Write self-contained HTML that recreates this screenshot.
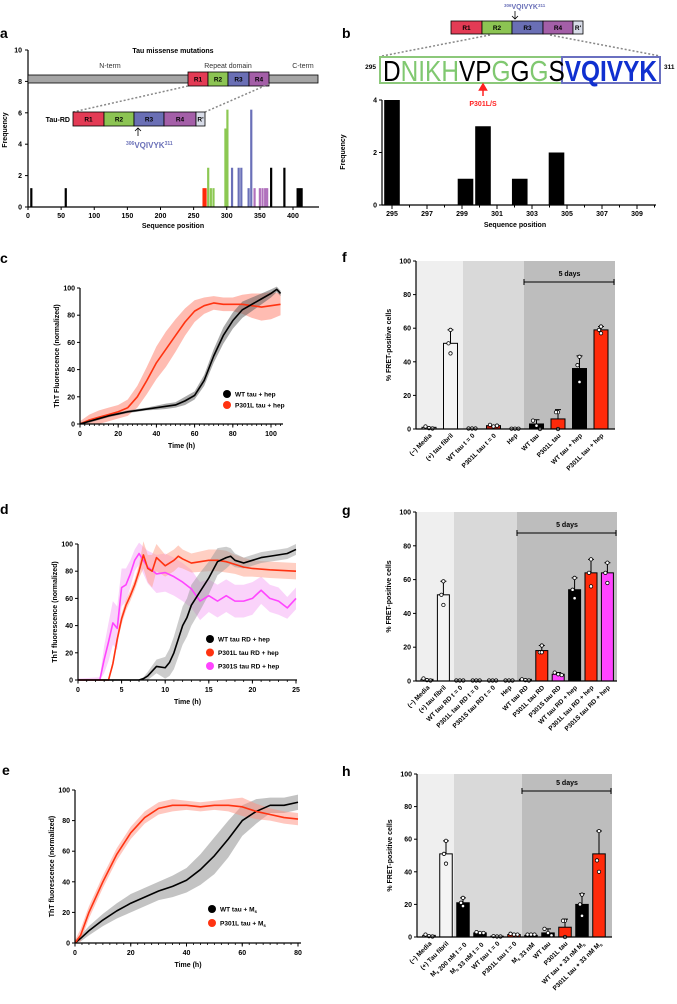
<!DOCTYPE html>
<html><head><meta charset="utf-8"><style>
html,body{margin:0;padding:0;background:#fff}
svg{display:block;font-family:"Liberation Sans",Arial,sans-serif}
</style></head><body>
<svg id="fig" width="677" height="1004" viewBox="0 0 677 1004" xmlns="http://www.w3.org/2000/svg"></svg>
<script>
// ---------- DATA ----------
// panel a
const aPos=[5,57,265,268,272,276,280,298,301,308,318,322,333,337,342,350,354,358,361,367,387,407,410,413];
const aFreq=[1.2,1.2,1.2,1.2,2.5,1.2,1.2,5,6.2,2.5,2.5,2.5,1.2,6.2,1.2,1.2,1.2,1.2,1.2,2.5,2.5,1.2,1.2,1.2];
const aColor=['k','k','r','r','g','g','g','g','g','b','b','b','b','b','p','p','p','p','p','k','k','k','k','k'];
const aXTicks=[0,50,100,150,200,250,300,350,400];
const aYTicks=[0,2,4,6,8,10];
// panel b
const bPos=[295,299.2,300.2,302.3,304.4];
const bFreq=[4,1,3,1,2];
const bXTicks=[295,297,299,301,303,305,307,309];
const bYTicks=[0,2,4];
// panel c
const cWtX=[0,5,10,15,20,25,30,35,40,45,50,55,60,65,70,75,80,85,90,95,100,103,105];
const cWtY=[0,2,4,6,7.5,9,10,11,12,13,14,17,21,32,50,65,76,84,88,92,96,99,96];
const cWtE=[1,1,1,1,1,1,1,1,1.5,2,2,3,3,4,5,6,6,6,5,4,3,2,2];
const cMutX=[0,5,10,15,20,25,30,35,40,45,50,55,60,65,70,75,80,85,90,95,100,105];
const cMutY=[0,3,5,7,9,12,20,32,45,55,65,75,83,87,89,88,88,88,87,86,87,88];
const cMutE=[2,4,5,5,5,6,8,10,12,13,12,10,8,6,5,5,5,7,9,10,10,8];
// panel d
const dWtX=[0,7,7.5,8,9,10,10.5,11,12,12.5,13,14,15,16,17,17.5,18,19,20,21,22,23,24,25];
const dWtY=[0,0,1,3,10,9,13,20,40,46,55,65,75,87,90,91,88,86,88,90,91,92,93,96];
const dWtE=[0.5,0.5,1,3,5,8,10,12,14,14,15,14,12,10,8,6,5,4,4,4,4,4,4,4];
const dL_X=[0,3.5,4,4.5,5,5.5,6,6.5,7,7.5,8,8.5,9,10,11,11.5,12,13,15,16,17,18,19,20,22,25];
const dL_Y=[0,0,12,30,45,55,62,70,80,92,82,80,90,84,88,91,89,86,88,88,87,85,83,82,81,80];
const dL_E=[0.5,0.5,3,3,4,4,4,4,5,10,10,12,10,8,8,8,7,7,8,8,8,7,7,6,6,6];
const dS_X=[0,2.5,3,3.5,4,4.5,5,5.5,6,6.5,7,7.5,8,9,10,11,12,13,14,15,16,17,18,19,20,21,22,23,24,25];
const dS_Y=[0,0,15,28,42,38,68,70,78,88,93,88,83,78,79,76,72,67,58,62,58,62,58,58,60,66,60,58,53,60];
const dS_E=[1,2,10,14,16,16,14,12,10,8,8,10,12,14,14,14,14,14,14,12,12,12,12,12,12,10,10,10,8,8];
// panel e
const eWtX=[0,2,5,10,15,20,25,30,35,40,45,50,55,60,65,70,75,80];
const eWtY=[0,3,8,15,21,26,30,34,37,41,48,57,68,80,86,90,90,92];
const eWtE=[2,2,3,4,5,6,6,6,7,8,10,12,12,10,8,5,5,5];
const eMutX=[0,2,5,10,15,20,25,30,35,40,45,50,55,60,65,70,75,80];
const eMutY=[0,5,20,40,58,72,82,88,90,90,89,90,90,89,86,84,82,81];
const eMutE=[2,4,4,4,4,4,4,4,4,3,3,3,4,6,5,4,4,4];
// panel f
const fCats=['(−) Media','(+) tau fibril','WT tau t = 0','P301L tau t = 0','Hep','WT tau','P301L tau','WT  tau + hep','P301L tau + hep'];
const fVals=[1,51,0,2,0,3,6,36,59];
const fErr=[0,8,0,0,0,2.5,5.5,7.5,2];
const fPts=[[1.5,0.5,0.3],[59,51,45],[0.3,0.3,0.3],[2.5,1.5,2],[0.2,0.2,0.2],[5,2,0],[10,10,0],[43,38,28],[61,59,57]];
const fFill=['w','w','k','dr','k','k','r','k','r'];
// panel g
const gCats=['(−) Media','(+) tau fibril','WT tau RD t = 0','P301L tau RD t = 0','P301S tau RD t = 0','Hep','WT tau RD','P301L tau RD','P301S tau RD','WT tau RD + hep','P301L tau RD + hep','P301S tau RD + hep'];
const gVals=[1,51,0,0,0,0,1,18,4,54,64,64];
const gErr=[0,8,0,0,0,0,0,3,1,7,8,6];
const gPts=[[1.5,0.5,0.3],[59,51,45],[0.3,0.3,0.3],[0.3,0.3,0.3],[0.3,0.3,0.3],[0.3,0.3,0.3],[1,0.5,0.3],[21,17,17],[5,4,3.5],[61,54,49],[72,64,56],[70,64,58]];
const gFill=['w','w','k','k','k','k','k','r','m','k','r','m'];
// panel h
const hCats=['(−) Media','(+) Tau fibril','Ms 200 nM t = 0','Ms 33 nM t = 0','WT tau t = 0','P301L tau t = 0','Ms 33 nM','WT tau','P301L tau','WT tau + 33 nM Ms','P301L tau + 33 nM Ms'];
const hVals=[1,51,21,2.5,0.5,1.5,1,2.5,6,20,51];
const hErr=[0,8,3,0,0,0,0,2.5,5,6.5,14];
const hPts=[[1.5,0.5,0.3],[59,51,45],[24,21,19],[3,2.5,2.5],[0.5,0.3,0.3],[2,1.5,1.5],[1.5,1.5,1.5],[5,2.5,1],[10,10,0],[26,20,13],[65,47,40]];
const hFill=['w','w','k','k','k','r','k','k','r','k','r'];

// ---------- DRAWING ----------
const NS='http://www.w3.org/2000/svg';
const svg=document.getElementById('fig');
function el(tag,attrs,parent){const e=document.createElementNS(NS,tag);for(const k in attrs)e.setAttribute(k,attrs[k]);(parent||svg).appendChild(e);return e;}
function txt(x,y,s,size,anchor,weight,fill,parent){const t=el('text',{x:x,y:y,'font-size':size,'text-anchor':anchor||'start','font-weight':weight||'bold',fill:fill||'#000'},parent);t.textContent=s;return t;}
const COL={k:'#000',r:'#ff2a0a',g:'#8cc853',b:'#6a70b8',p:'#b070bc',w:'#f4f4f4',m:'#ff44ff',dr:'#c02010'};

function panelLabel(x,y,s){const t=txt(x,y,s,14,'start','bold');}

// ---- Panel a ----
(function(){
 const g=el('g',{});
 
 
 panelLabel(0,38,'a');
 const X=v=>28+v*0.6625, Y=v=>207-v*15.7;
 aPos.forEach((p,i)=>{const r=el('rect',{x:X(p)-1.1,y:Y(aFreq[i]),width:2.2,height:207-Y(aFreq[i]),fill:COL[aColor[i]]},g);
  
  });
 el('line',{x1:28,y1:50,x2:28,y2:207,stroke:'#000','stroke-width':1.2},g);
 el('line',{x1:28,y1:207,x2:319,y2:207,stroke:'#000','stroke-width':1.2},g);
 aYTicks.forEach(v=>{el('line',{x1:25,y1:Y(v),x2:28,y2:Y(v),stroke:'#000'},g);txt(22,Y(v)+2.5,v,7,'end','bold',null,g);});
 aXTicks.forEach(v=>{el('line',{x1:X(v),y1:207,x2:X(v),y2:210,stroke:'#000'},g);txt(X(v),218,v,7,'middle','bold',null,g);});
 const xt=txt(173,228,'Sequence position',7,'middle','bold',null,g);
 const yt=txt(0,0,'Frequency',7,'middle','bold',null,g);yt.setAttribute('transform','translate(7,130) rotate(-90)');
 const tt=txt(173,53,'Tau missense mutations',7,'middle','bold',null,g);
 txt(110,68,'N-term',7,'middle','normal','#333',g);txt(228,68,'Repeat domain',7,'middle','normal','#333',g);txt(303,68,'C-term',7,'middle','normal','#333',g);
 const pb=el('rect',{x:28,y:75,width:290,height:8,fill:'#a5a5a5',stroke:'#000','stroke-width':0.8},g);
 const seg=(xs,y,h,labs,cols)=>{for(let i=0;i<labs.length;i++){el('rect',{x:xs[i],y:y,width:xs[i+1]-xs[i],height:h,fill:cols[i],stroke:'#000','stroke-width':0.8},g);txt((xs[i]+xs[i+1])/2,y+h/2+2.5,labs[i],6.5,'middle','bold','#000',g);}};
 const rc=['#e33b55','#8cc453','#6a6fb5','#a45fa8','#d8dce8'];
 seg([188,208,228,249,269],72,14,['R1','R2','R3','R4'],rc);
 el('line',{x1:188,y1:86,x2:73,y2:112,stroke:'#888','stroke-width':1.5,'stroke-dasharray':'2,2'},g);
 el('line',{x1:269,y1:84,x2:205,y2:112,stroke:'#888','stroke-width':1.5,'stroke-dasharray':'2,2'},g);
 seg([73,104,134,164,196,205],112,14,['R1','R2','R3','R4',"R'"],rc);
 txt(70,122,'Tau-RD',7,'end','bold',null,g);
 el('path',{d:'M138,136 L138,128 M135,131 L138,128 L141,131',stroke:'#000',fill:'none','stroke-width':0.8},g);
 const m=txt(126,148,'',8,'start','bold','#6a70b8',g);m.innerHTML='<tspan font-size="5" dy="-3">306</tspan><tspan dy="3">VQIVYK</tspan><tspan font-size="5" dy="-3">311</tspan>';
})();

// ---- Panel b ----
(function(){
 const g=el('g',{});
 
 
 panelLabel(342,38,'b');
 const rc=['#e33b55','#8cc453','#6a6fb5','#a45fa8','#d8dce8'];
 const xs=[451,482,512,543,573,583],labs=['R1','R2','R3','R4',"R'"];
 for(let i=0;i<5;i++){el('rect',{x:xs[i],y:21,width:xs[i+1]-xs[i],height:13,fill:rc[i],stroke:'#000','stroke-width':0.8},g);txt((xs[i]+xs[i+1])/2,30,labs[i],6.5,'middle','bold','#000',g);}
 el('path',{d:'M515,19 L515,11 M512,16 L515,19 L518,16',stroke:'#000',fill:'none','stroke-width':0.8},g);
 const m=txt(504,9,'',7,'start','bold','#6a70b8',g);m.innerHTML='<tspan font-size="4.5" dy="-2">306</tspan><tspan dy="2">VQIVYK</tspan><tspan font-size="4.5" dy="-2">311</tspan>';
 el('line',{x1:490,y1:35,x2:382,y2:56,stroke:'#888','stroke-width':1.5,'stroke-dasharray':'2,2'},g);
 el('line',{x1:550,y1:35,x2:660,y2:56,stroke:'#888','stroke-width':1.5,'stroke-dasharray':'2,2'},g);
 el('rect',{x:380,y:57,width:182,height:26,fill:'#fff',stroke:'#8cc87a','stroke-width':2},g);
 el('rect',{x:562,y:57,width:98,height:26,fill:'#fff',stroke:'#6a70c0','stroke-width':2},g);
 const s=txt(383,81,'',29,'start','normal',null,g);
 s.setAttribute('textLength','274');s.setAttribute('lengthAdjust','spacingAndGlyphs');
 
 s.innerHTML='<tspan fill="#000">D</tspan><tspan fill="#80c870">NIKH</tspan><tspan fill="#000">VP</tspan><tspan fill="#80c870">G</tspan><tspan fill="#000">G</tspan><tspan fill="#80c870">G</tspan><tspan fill="#000">S</tspan><tspan fill="#1030d0" font-weight="bold">VQIVYK</tspan>';
 txt(376,69,'295',6.5,'end','bold',null,g);txt(664,69,'311',6.5,'start','bold',null,g);
 el('path',{d:'M483,96 L483,88 M479.5,90 L483,84 L486.5,90 Z',stroke:'#ff2020',fill:'#ff2020','stroke-width':1.5},g);
 txt(483,106,'P301L/S',7,'middle','bold','#ff2020',g);
 const X=v=>392+(v-295)*17.5, Y=v=>205-v*26.25;
 bPos.forEach((p,i)=>{const r=el('rect',{x:X(p)-7.8,y:Y(bFreq[i]),width:15.6,height:205-Y(bFreq[i]),fill:'#000'},g);
  
  });
 el('line',{x1:382,y1:100,x2:382,y2:205,stroke:'#000','stroke-width':1.2},g);
 el('line',{x1:382,y1:205,x2:656,y2:205,stroke:'#000','stroke-width':1.2},g);
 bYTicks.forEach(v=>{el('line',{x1:379,y1:Y(v),x2:382,y2:Y(v),stroke:'#000'},g);txt(377,Y(v)+2.5,v,7,'end','bold',null,g);});
 for(let v=295;v<=310;v++)el('line',{x1:X(v),y1:205,x2:X(v),y2:207.5,stroke:'#000'},g);
 bXTicks.forEach(v=>{el('line',{x1:X(v),y1:205,x2:X(v),y2:209,stroke:'#000'},g);txt(X(v),216,v,7,'middle','bold',null,g);});
 const xt=txt(515,227,'Sequence position',7,'middle','bold',null,g);
 const yt=txt(0,0,'Frequency',7,'middle','bold',null,g);yt.setAttribute('transform','translate(345,152) rotate(-90)');
})();

// ---- Line charts ----
function lineChart(c){
 const g=el('g',{});
 
 
 const X=v=>c.x0+(v/c.xr)*(c.xr_px), Y=v=>c.y0-v*(c.y0-c.y100)/100;
 c.series.forEach(s=>{
  let up=s.x.map((v,i)=>X(v)+','+Y(Math.min(s.y[i]+s.e[i],104)));
  let dn=s.x.map((v,i)=>X(v)+','+Y(Math.max(s.y[i]-s.e[i],0))).reverse();
  const b=el('polygon',{points:up.concat(dn).join(' '),fill:s.band,opacity:0.5},g);
  
  
 });
 c.series.forEach(s=>{
  const l=el('polyline',{points:s.x.map((v,i)=>X(v)+','+Y(s.y[i])).join(' '),fill:'none',stroke:s.col,'stroke-width':1.6,'stroke-linejoin':'round'},g);
  
  
 });
 el('line',{x1:c.x0,y1:c.y100,x2:c.x0,y2:c.y0,stroke:'#000','stroke-width':1.2},g);
 el('line',{x1:c.x0,y1:c.y0,x2:c.xend,y2:c.y0,stroke:'#000','stroke-width':1.2},g);
 [0,20,40,60,80,100].forEach(v=>{el('line',{x1:c.x0-3,y1:Y(v),x2:c.x0,y2:Y(v),stroke:'#000'},g);txt(c.x0-5,Y(v)+2.5,v,7,'end','bold',null,g);});
 for(let v=0;X(v)<=c.xend+0.5;v+=c.minor)el('line',{x1:X(v),y1:c.y0,x2:X(v),y2:c.y0+2,stroke:'#000','stroke-width':0.8},g);
 c.ticks.forEach(v=>{el('line',{x1:X(v),y1:c.y0,x2:X(v),y2:c.y0+3.5,stroke:'#000'},g);txt(X(v),c.y0+12,v,7,'middle','bold',null,g);});
 const xt=txt((c.x0+c.xend)/2,c.y0+24,'Time (h)',7,'middle','bold',null,g);
 const yt=txt(0,0,c.ylab,7,'middle','bold',null,g);yt.setAttribute('transform','translate('+(c.x0-21)+','+((c.y0+c.y100)/2)+') rotate(-90)');
 c.legend.forEach((L,i)=>{const lg=el('g',{},g);
  
  
  el('circle',{cx:c.lx,cy:c.ly+i*c.lsp,r:4,fill:L[1]},lg);
  const t=txt(c.lx+8,c.ly+i*c.lsp+2.5,'',6.5,'start','bold',null,lg);t.innerHTML=L[0];});
}
panelLabel(0,263,'c');
lineChart({name:'panel-c-chart',x0:80,xr:100,xr_px:191,xend:283,y0:424,y100:288,minor:2.5,ticks:[0,20,40,60,80,100],ylab:'ThT Fluorescence (normalized)',
 series:[{id:'p301l-tau',x:cMutX,y:cMutY,e:cMutE,col:'#ff3311',band:'#ff7a66'},{id:'wt-tau',x:cWtX,y:cWtY,e:cWtE,col:'#000',band:'#555'}],
 lx:227,ly:394,lsp:11,legend:[['WT tau + hep','#000'],['P301L tau + hep','#ff3311']]});
panelLabel(0,514,'d');
lineChart({name:'panel-d-chart',x0:78,xr:25,xr_px:218,xend:297,y0:680,y100:544,minor:1,ticks:[0,5,10,15,20,25],ylab:'ThT fluorescence (normalized)',
 series:[{id:'p301s-tau-rd',x:dS_X,y:dS_Y,e:dS_E,col:'#ff44ff',band:'#f6a8f6'},{id:'p301l-tau-rd',x:dL_X,y:dL_Y,e:dL_E,col:'#ff3311',band:'#ffa088'},{id:'wt-tau-rd',x:dWtX,y:dWtY,e:dWtE,col:'#000',band:'#999'}],
 lx:210,ly:639,lsp:13.5,legend:[['WT tau RD + hep','#000'],['P301L tau RD + hep','#ff3311'],['P301S tau RD + hep','#ff44ff']]});
panelLabel(2,775,'e');
lineChart({name:'panel-e-chart',x0:75,xr:80,xr_px:223,xend:301,y0:943,y100:790,minor:2.5,ticks:[0,20,40,60,80],ylab:'ThT fluorescence (normalized)',
 series:[{id:'wt-tau-ms',x:eWtX,y:eWtY,e:eWtE,col:'#000',band:'#888'},{id:'p301l-tau-ms',x:eMutX,y:eMutY,e:eMutE,col:'#ff3311',band:'#ff9080'}],
 lx:212,ly:909,lsp:14,legend:[['WT tau + M<tspan font-size="4.5" dy="1.5">s</tspan>','#000'],['P301L tau + M<tspan font-size="4.5" dy="1.5">s</tspan>','#ff3311']]});

// ---- Bar charts ----
function barChart(c){
 const g=el('g',{});
 
 
 const Y=v=>c.y0-v*(c.y0-c.y100)/100, X=i=>c.first+i*c.sp;
 el('rect',{x:c.x0,y:c.y100,width:c.b1-c.x0,height:c.y0-c.y100,fill:'#efefef'},g);
 el('rect',{x:c.b1,y:c.y100,width:c.b2-c.b1,height:c.y0-c.y100,fill:'#d9d9d9'},g);
 el('rect',{x:c.b2,y:c.y100,width:c.xend-c.b2,height:c.y0-c.y100,fill:'#bdbdbd'},g);
 el('path',{d:'M'+c.b2+','+(c.by-3)+' V'+(c.by+3)+' M'+c.b2+','+c.by+' H'+(c.xend-1)+' M'+(c.xend-1)+','+(c.by-3)+' V'+(c.by+3),stroke:'#000','stroke-width':1,fill:'none'},g);
 txt((c.b2+c.xend)/2,c.by-6,'5 days',7,'middle','bold',null,g);
 c.vals.forEach((v,i)=>{
  const bar=el('rect',{x:X(i)-c.bw/2,y:Y(v),width:c.bw,height:c.y0-Y(v),fill:COL[c.fill[i]],stroke:'#000','stroke-width':1},g);
  
  
  if(c.err[i]>0)el('path',{d:'M'+X(i)+','+Y(v)+' V'+Y(v+c.err[i])+' M'+(X(i)-3)+','+Y(v+c.err[i])+' H'+(X(i)+3),stroke:'#000','stroke-width':1,fill:'none'},g);
  c.pts[i].forEach((p,j)=>{const n=c.pts[i].length;const dx=(v<5)?(j-(n-1)/2)*3.5:(j===1?-2:0);
   el('circle',{cx:X(i)+dx,cy:Y(p),r:1.7,fill:'#fff',stroke:'#000','stroke-width':0.8},g);});
  const t=txt(0,0,'',6.5,'end','bold',null,g);t.innerHTML=c.cats[i].replace(/Ms/g,'M<tspan font-size="4.5" dy="1.5">s</tspan><tspan dy="-1.5"></tspan>');
  t.setAttribute('transform','translate('+(X(i)+3)+','+(c.y0+7)+') rotate(-45)');
  
  
 });
 el('line',{x1:c.x0,y1:c.y100,x2:c.x0,y2:c.y0,stroke:'#000','stroke-width':1.2},g);
 el('line',{x1:c.x0,y1:c.y0,x2:c.xend,y2:c.y0,stroke:'#000','stroke-width':1.2},g);
 [0,20,40,60,80,100].forEach(v=>{el('line',{x1:c.x0-3,y1:Y(v),x2:c.x0,y2:Y(v),stroke:'#000'},g);txt(c.x0-5,Y(v)+2.5,v,7,'end','bold',null,g);});
 const yt=txt(0,0,'% FRET-positive cells',7,'middle','bold',null,g);yt.setAttribute('transform','translate('+(c.x0-25)+','+((c.y0+c.y100)/2)+') rotate(-90)');
}
panelLabel(342,262,'f');
barChart({name:'panel-f-chart',x0:416,xend:615,y0:429,y100:261,b1:463,b2:524,by:282,first:429,sp:21.5,bw:14,cats:fCats,vals:fVals,err:fErr,pts:fPts,fill:fFill});
panelLabel(342,515,'g');
barChart({name:'panel-g-chart',x0:416,xend:617,y0:681,y100:512,b1:454,b2:517,by:533,first:427,sp:16.4,bw:12,cats:gCats,vals:gVals,err:gErr,pts:gPts,fill:gFill});
panelLabel(342,776,'h');
barChart({name:'panel-h-chart',x0:417,xend:612,y0:937,y100:774,b1:454,b2:522,by:791,first:429,sp:17,bw:12.5,cats:hCats,vals:hVals,err:hErr,pts:hPts,fill:hFill});
</script>
</body></html>
